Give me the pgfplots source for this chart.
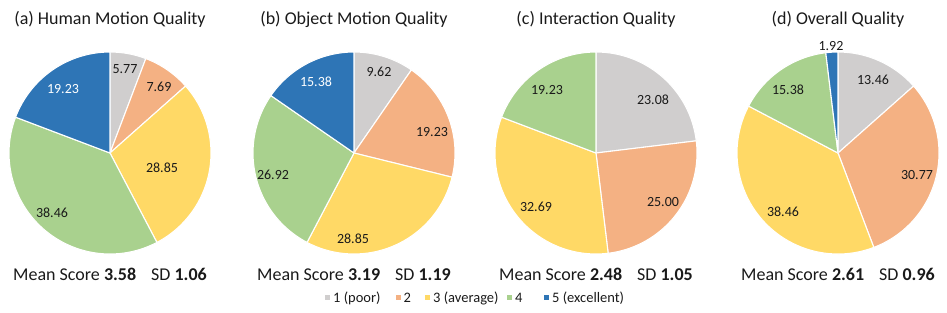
\documentclass[border=0pt]{standalone}
\usepackage{pgfplots}
\pgfplotsset{compat=1.18}
\usepackage{fontspec}
\setmainfont{Carlito}
\definecolor{cPoor}{HTML}{D0CECE}
\definecolor{cTwo}{HTML}{F4B183}
\definecolor{cAvg}{HTML}{FFD966}
\definecolor{cFour}{HTML}{A9D18E}
\definecolor{cExc}{HTML}{2E75B6}
\definecolor{txt}{HTML}{1A1A1A}

% #1,#2 centre (axis units = px), #3 list value/colour/label dx/label dy (px, down)/text colour
\newcommand{\drawpie}[3]{%
  \gdef\cum{0}%
  \foreach \v/\col/\lx/\ly/\tc in {#3}{%
    \pgfmathsetmacro{\sa}{90-3.6*\cum}%
    \pgfmathsetmacro{\ea}{90-3.6*(\cum+\v)}%
    \pgfmathsetmacro{\newcum}{\cum+\v}%
    \xdef\cum{\newcum}%
    \pgfmathsetmacro{\px}{#1+\lx}%
    \pgfmathsetmacro{\py}{#2-\ly}%
    \edef\doit{%
      \noexpand\filldraw[fill=\col, draw=white, line width=1.1bp, line join=round] (axis cs:#1,#2) -- ++(\sa:101bp) arc[start angle=\sa, end angle=\ea, radius=101bp] -- cycle;%
      \noexpand\node[text=\tc, font=\noexpand\fontsize{14bp}{16bp}\noexpand\selectfont] at (axis cs:\px,\py) {\v};%
    }%
    \doit
  }%
}
\newcommand{\titlefont}{\fontsize{18bp}{20bp}\selectfont}
\newcommand{\legfont}{\fontsize{14.5bp}{16bp}\selectfont}

\begin{document}
\begin{tikzpicture}
\begin{axis}[x=1bp, y=1bp, xmin=0, xmax=947, ymin=0, ymax=312,
  hide axis, clip=false]
\path (axis cs:0,0) rectangle (axis cs:947,312);
% (a) Human Motion Quality
\drawpie{110}{159}{5.77/cPoor/15/-84/txt, 7.69/cTwo/49/-66/txt, 28.85/cAvg/52/15/txt, 38.46/cFour/-58/60/txt, 19.23/cExc/-47/-64/white}
% (b) Object Motion Quality
\drawpie{354}{159}{9.62/cPoor/25/-81/txt, 19.23/cTwo/78/-21/txt, 28.85/cAvg/-1/86/txt, 26.92/cFour/-81/22/txt, 15.38/cExc/-38/-71/white}
% (c) Interaction Quality
\drawpie{596}{159}{23.08/cPoor/57/-53/txt, 25.00/cTwo/67/49/txt, 32.69/cAvg/-60/54/txt, 19.23/cFour/-49/-63/txt}
% (d) Overall Quality
\drawpie{838}{159}{13.46/cPoor/35/-73/txt, 30.77/cTwo/79/22/txt, 38.46/cAvg/-55/59/txt, 15.38/cFour/-50/-63/txt, 1.92/cExc/-7/-107/txt}

\node[anchor=base, font=\titlefont, text=txt] at (axis cs:110,287.7) {(a) Human Motion Quality};
\node[anchor=base, font=\titlefont, text=txt] at (axis cs:354,287.7) {(b) Object Motion Quality};
\node[anchor=base, font=\titlefont, text=txt] at (axis cs:596,287.7) {(c) Interaction Quality};
\node[anchor=base, font=\titlefont, text=txt] at (axis cs:838,287.7) {(d) Overall Quality};

\node[anchor=base, font=\titlefont, text=txt] at (axis cs:110,32) {Mean Score \textbf{3.58}\hspace{15bp}SD \textbf{1.06}};
\node[anchor=base, font=\titlefont, text=txt] at (axis cs:354,32) {Mean Score \textbf{3.19}\hspace{15bp}SD \textbf{1.19}};
\node[anchor=base, font=\titlefont, text=txt] at (axis cs:596,32) {Mean Score \textbf{2.48}\hspace{15bp}SD \textbf{1.05}};
\node[anchor=base, font=\titlefont, text=txt] at (axis cs:838,32) {Mean Score \textbf{2.61}\hspace{15bp}SD \textbf{0.96}};

% legend
\fill[cPoor] (axis cs:325,12.5) rectangle (axis cs:330,17.5);
\node[anchor=base west, inner sep=0pt, font=\legfont, text=txt] at (axis cs:333,10) {1 (poor)};
\fill[cTwo] (axis cs:395.5,12.5) rectangle (axis cs:400.5,17.5);
\node[anchor=base west, inner sep=0pt, font=\legfont, text=txt] at (axis cs:403.5,10) {2};
\fill[cAvg] (axis cs:425,12.5) rectangle (axis cs:430,17.5);
\node[anchor=base west, inner sep=0pt, font=\legfont, text=txt] at (axis cs:433,10) {3 (average)};
\fill[cFour] (axis cs:506.5,12.5) rectangle (axis cs:511.5,17.5);
\node[anchor=base west, inner sep=0pt, font=\legfont, text=txt] at (axis cs:515,10) {4};
\fill[cExc] (axis cs:544,12.5) rectangle (axis cs:549,17.5);
\node[anchor=base west, inner sep=0pt, font=\legfont, text=txt] at (axis cs:552,10) {5 (excellent)};
\end{axis}
\end{tikzpicture}
\end{document}
